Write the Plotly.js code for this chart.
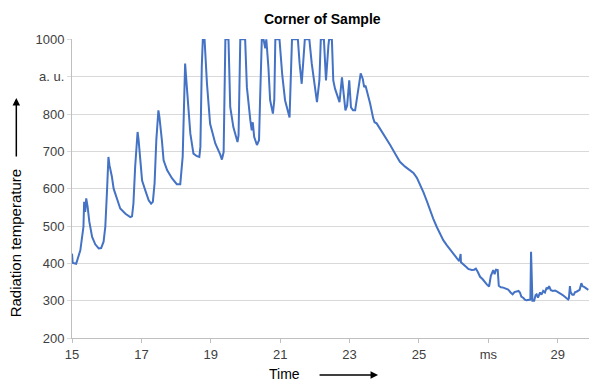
<!DOCTYPE html>
<html>
<head>
<meta charset="utf-8">
<script src="https://cdn.plot.ly/plotly-3.0.1.min.js"></script>
<style>html,body{margin:0;padding:0;background:#fff;}#chart{width:589px;height:383px;}</style>
</head>
<body>
<div id="chart"></div>
<script>
// Time in ms
const timeMs = [15.00,15.02,15.12,15.24,15.33,15.35,15.38,15.41,15.45,15.50,15.58,15.67,15.77,15.84,15.91,15.96,16.01,16.05,16.08,16.15,16.20,16.30,16.39,16.54,16.68,16.73,16.77,16.82,16.89,16.92,16.97,17.02,17.11,17.21,17.28,17.33,17.38,17.43,17.49,17.52,17.59,17.64,17.74,17.88,18.02,18.12,18.19,18.24,18.26,18.31,18.41,18.50,18.60,18.67,18.70,18.74,18.77,18.82,18.89,18.98,19.13,19.27,19.32,19.37,19.42,19.51,19.56,19.65,19.77,19.80,19.85,19.99,20.04,20.14,20.18,20.21,20.25,20.33,20.39,20.42,20.47,20.52,20.57,20.60,20.66,20.71,20.79,20.83,20.86,20.98,21.06,21.14,21.23,21.27,21.34,21.51,21.56,21.62,21.71,21.84,21.91,22.01,22.06,22.13,22.17,22.26,22.32,22.39,22.41,22.49,22.53,22.58,22.64,22.71,22.78,22.82,22.88,22.93,22.99,23.04,23.10,23.16,23.24,23.27,23.32,23.38,23.42,23.46,23.50,23.59,23.68,23.72,23.78,23.88,24.02,24.17,24.31,24.45,24.60,24.74,24.84,24.94,25.03,25.13,25.23,25.32,25.41,25.51,25.61,25.70,25.80,25.90,25.98,26.09,26.16,26.20,26.21,26.28,26.38,26.42,26.52,26.59,26.64,26.70,26.76,26.83,26.90,26.96,27.02,27.05,27.07,27.14,27.18,27.22,27.27,27.30,27.36,27.43,27.51,27.57,27.64,27.70,27.75,27.82,27.87,27.91,27.95,28.01,28.05,28.10,28.18,28.21,28.23,28.25,28.27,28.32,28.36,28.39,28.43,28.49,28.53,28.58,28.63,28.68,28.71,28.75,28.80,28.86,28.92,28.97,29.04,29.11,29.16,29.21,29.25,29.30,29.32,29.35,29.37,29.42,29.46,29.50,29.54,29.59,29.63,29.68,29.71,29.77,29.83,29.88];
// Radiation temperature in a. u.
const radTemp = [426,401,399,435,498,565,538,574,552,511,471,451,440,441,458,498,596,685,663,632,600,569,547,533,524,526,560,658,752,730,676,622,596,569,560,565,614,730,810,792,730,676,650,628,612,612,686,855,935,872,748,694,687,685,712,926,1000,1000,881,774,721,692,678,698,1000,1000,819,765,725,743,1000,1000,872,783,756,778,739,717,730,837,1000,1000,976,1000,926,837,801,837,1000,1000,904,837,802,791,1000,1000,935,881,1000,1000,935,855,832,890,1000,1000,890,984,1000,1000,890,868,850,832,898,864,810,823,890,818,810,810,863,869,909,894,872,876,863,829,789,778,775,761,739,717,694,672,659,650,642,629,612,590,566,542,520,498,478,462,449,436,425,414,406,425,403,398,389,385,382,383,386,376,364,358,349,343,338,350,366,382,371,383,382,340,336,335,333,330,322,317,323,324,326,322,311,307,303,301,301,303,431,312,300,300,315,317,308,322,316,326,322,335,331,339,328,326,327,325,322,317,314,310,309,303,306,339,323,316,316,323,324,328,329,347,339,336,332,329];

const xTickVals = [15,17,19,21,23,25,27,29];
const xTickText = ['15','17','19','21','23','25','ms','29'];
const yTickVals = [200,300,400,500,600,700,800,900,1000];
const yTickText = ['200','300','400','500','600','700','800','a. u.','1000'];

const FONT = '"Liberation Sans", Arial, sans-serif';

const trace = {
  x: timeMs, y: radTemp, type: 'scatter', mode: 'lines',
  line: {color: '#4472C4', width: 2}, hoverinfo: 'skip'
};

const layout = {
  width: 589, height: 383,
  margin: {l: 72, r: 0, t: 39, b: 45},
  paper_bgcolor: '#fff', plot_bgcolor: '#fff',
  font: {family: FONT, size: 13, color: '#404040'},
  showlegend: false,
  title: {text: '<b>Corner of Sample</b>', font: {family: FONT, size: 14, color: '#000'},
          x: 0.484, xref: 'paper', xanchor: 'center', y: 0.95, yref: 'container', yanchor: 'middle'},
  xaxis: {range: [15, 29.9], tickmode: 'array', tickvals: xTickVals, ticktext: xTickText,
          showgrid: false, zeroline: false, showline: true, linecolor: '#bfbfbf', linewidth: 1,
          ticks: 'outside', ticklen: 4, tickcolor: '#bfbfbf',
          tickfont: {family: FONT, size: 13, color: '#404040'}},
  yaxis: {range: [200, 1001], tickmode: 'array', tickvals: yTickVals, ticktext: yTickText,
          showgrid: true, gridcolor: '#d9d9d9', gridwidth: 1, zeroline: false,
          showline: true, linecolor: '#bfbfbf', linewidth: 1,
          ticks: 'outside', ticklen: 4, tickcolor: '#d9d9d9',
          tickfont: {family: FONT, size: 13, color: '#404040'}},
  annotations: [
    {text: 'Radiation temperature', textangle: -90, xref: 'paper', yref: 'paper',
     x: -0.1096, y: 0.3177, xanchor: 'center', yanchor: 'middle', showarrow: false,
     font: {family: FONT, size: 15, color: '#000'}},
    {text: '', xref: 'paper', yref: 'paper', x: -0.1077, y: 0.8027, showarrow: true,
     ax: 0, ay: 60, arrowhead: 2, arrowsize: 1, arrowwidth: 1.5, arrowcolor: '#000'},
    {text: 'Time', xref: 'paper', yref: 'paper', x: 0.4104, y: -0.122,
     xanchor: 'center', yanchor: 'middle', showarrow: false,
     font: {family: FONT, size: 14, color: '#000'}},
    {text: '', xref: 'paper', yref: 'paper', x: 0.592, y: -0.124, showarrow: true,
     ax: -60, ay: 0, arrowhead: 2, arrowsize: 1, arrowwidth: 1.5, arrowcolor: '#000'}
  ]
};

Plotly.newPlot('chart', [trace], layout, {displayModeBar: false, staticPlot: true});
</script>
</body>
</html>
